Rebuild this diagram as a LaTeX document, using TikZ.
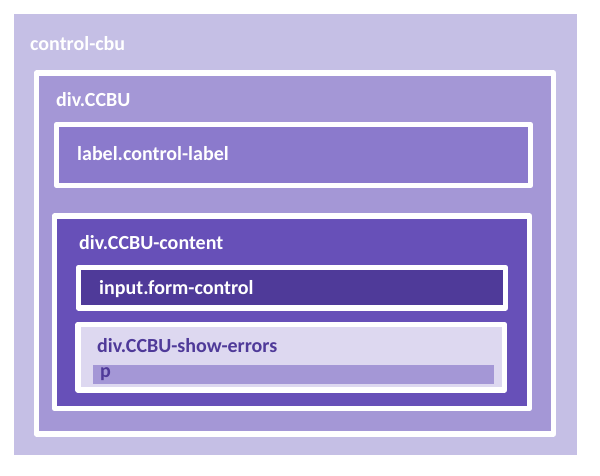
\documentclass[tikz,border=0pt]{standalone}
\usepackage{fontspec}
\setmainfont{Carlito}
\definecolor{cbulight}{HTML}{C5BFE5}
\definecolor{ccbufill}{HTML}{A497D6}
\definecolor{labelfill}{HTML}{8B7ACC}
\definecolor{contentfill}{HTML}{6750B8}
\definecolor{inputfill}{HTML}{4F3A99}
\definecolor{errorsfill}{HTML}{DDD8F0}
\tikzset{
  box/.style={draw=white, line width=5.5pt},
  lbl/.style={anchor=west, inner sep=0pt, font=\fontsize{20}{24}\selectfont\bfseries, text=white},
  dark/.style={lbl, text=inputfill}
}

\begin{document}
\begin{tikzpicture}[x=1pt, y=-1pt, line join = round]
    \useasboundingbox (0,0) rectangle (600,475);
    \fill[cbulight] (14,14) rectangle (577,455);
    \draw[box, fill=ccbufill] (36.5,73) rectangle (553.5,434);
    \draw[box, fill=labelfill] (56.5,124.5) rectangle (530.5,185.5);
    \draw[box, fill=contentfill] (54.5,216) rectangle (529.5,408.5);
    \draw[box, fill=inputfill] (78.5,267.5) rectangle (505.5,308);
    \draw[box, fill=errorsfill] (78,324.5) rectangle (504.5,390);
    \fill[ccbufill] (93,365) rectangle (494,384);
    \node[lbl] (cbu) at (30,44) {control-cbu};
    \node[lbl] (ccbu) at (56,100) {div.CCBU};
    \node[lbl] (controllabel) at (77,154) {label.control-label};
    \node[lbl] (content) at (79,243) {div.CCBU-content};
    \node[lbl] (formcontrol) at (99,289) {input.form-control};
    \node[dark] (showerrors) at (97,346) {div.CCBU-show-errors};
    \node[dark] (para) at (100,374) {p};
\end{tikzpicture}
\end{document}
